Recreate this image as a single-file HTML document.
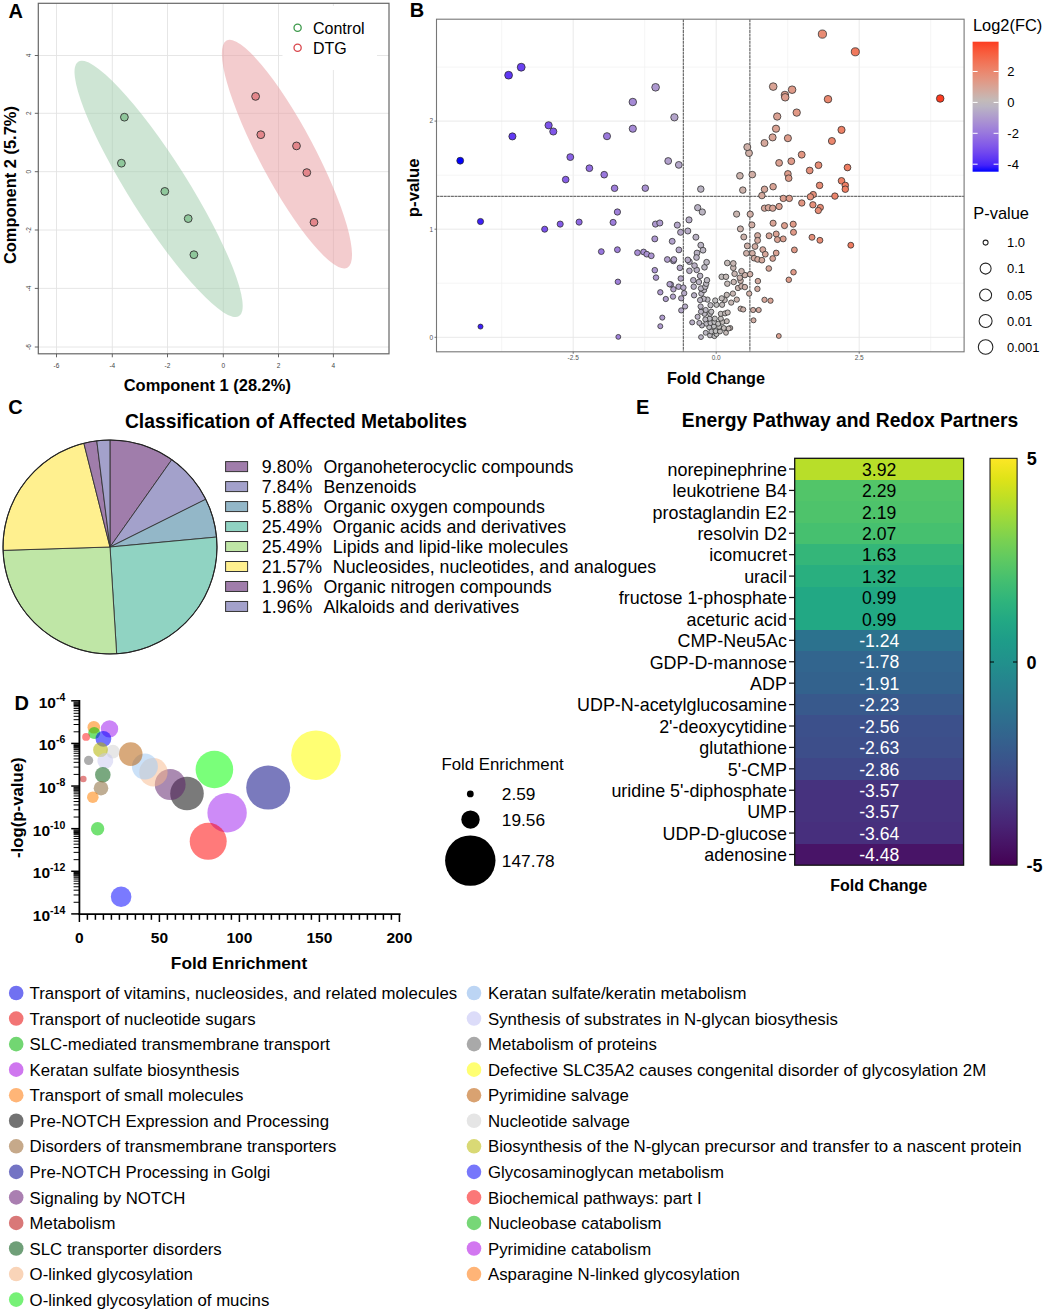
<!DOCTYPE html>
<html><head><meta charset="utf-8"><title>Figure</title>
<style>
html,body{margin:0;padding:0;background:#fff;}
body{width:1045px;height:1311px;overflow:hidden;}
svg{display:block;font-family:"Liberation Sans", sans-serif;}
</style></head><body>
<svg width="1045" height="1311" viewBox="0 0 1045 1311">
<rect width="1045" height="1311" fill="#fff"/>
<rect x="38.3" y="3.3" width="350.7" height="350.5" fill="#fff"/>
<line x1="56.5" y1="3.3" x2="56.5" y2="353.8" stroke="#e3e3e3" stroke-width="0.9"/>
<line x1="112.3" y1="3.3" x2="112.3" y2="353.8" stroke="#e3e3e3" stroke-width="0.9"/>
<line x1="167.5" y1="3.3" x2="167.5" y2="353.8" stroke="#e3e3e3" stroke-width="0.9"/>
<line x1="223.3" y1="3.3" x2="223.3" y2="353.8" stroke="#e3e3e3" stroke-width="0.9"/>
<line x1="278.5" y1="3.3" x2="278.5" y2="353.8" stroke="#e3e3e3" stroke-width="0.9"/>
<line x1="333.4" y1="3.3" x2="333.4" y2="353.8" stroke="#e3e3e3" stroke-width="0.9"/>
<line x1="38.3" y1="55.5" x2="389" y2="55.5" stroke="#e3e3e3" stroke-width="0.9"/>
<line x1="38.3" y1="113.3" x2="389" y2="113.3" stroke="#e3e3e3" stroke-width="0.9"/>
<line x1="38.3" y1="171.7" x2="389" y2="171.7" stroke="#e3e3e3" stroke-width="0.9"/>
<line x1="38.3" y1="230" x2="389" y2="230" stroke="#e3e3e3" stroke-width="0.9"/>
<line x1="38.3" y1="288.4" x2="389" y2="288.4" stroke="#e3e3e3" stroke-width="0.9"/>
<line x1="38.3" y1="347" x2="389" y2="347" stroke="#e3e3e3" stroke-width="0.9"/>
<ellipse cx="158.6" cy="188.9" rx="150.5" ry="29.1" transform="rotate(57.7 158.6 188.9)" fill="#9ecba9" fill-opacity="0.5"/>
<ellipse cx="286.95" cy="154.15" rx="128.6" ry="27.5" transform="rotate(62 286.95 154.15)" fill="#e89a9d" fill-opacity="0.5"/>
<rect x="282.5" y="6" width="94.5" height="64" fill="#fff"/>
<circle cx="297.6" cy="27.8" r="3.6" fill="none" stroke="#3e9a4c" stroke-width="1.3"/>
<circle cx="297.6" cy="47.8" r="3.6" fill="none" stroke="#d9474d" stroke-width="1.3"/>
<text x="313.00" y="33.60" font-size="16" font-weight="400" text-anchor="start" fill="#000" >Control</text>
<text x="313.00" y="53.60" font-size="16" font-weight="400" text-anchor="start" fill="#000" >DTG</text>
<circle cx="124.4" cy="117.2" r="3.9" fill="#8fc79b" stroke="#333" stroke-width="0.9"/>
<circle cx="121.4" cy="163.2" r="3.9" fill="#8fc79b" stroke="#333" stroke-width="0.9"/>
<circle cx="164.8" cy="191.4" r="3.9" fill="#8fc79b" stroke="#333" stroke-width="0.9"/>
<circle cx="188.2" cy="218.6" r="3.9" fill="#8fc79b" stroke="#333" stroke-width="0.9"/>
<circle cx="193.9" cy="254.7" r="3.9" fill="#8fc79b" stroke="#333" stroke-width="0.9"/>
<circle cx="255.6" cy="96.4" r="3.9" fill="#e3868b" stroke="#333" stroke-width="0.9"/>
<circle cx="260.8" cy="134.7" r="3.9" fill="#e3868b" stroke="#333" stroke-width="0.9"/>
<circle cx="296.5" cy="145.9" r="3.9" fill="#e3868b" stroke="#333" stroke-width="0.9"/>
<circle cx="306.8" cy="172.6" r="3.9" fill="#e3868b" stroke="#333" stroke-width="0.9"/>
<circle cx="314" cy="222.3" r="3.9" fill="#e3868b" stroke="#333" stroke-width="0.9"/>
<rect x="38.3" y="3.3" width="350.7" height="350.5" fill="none" stroke="#666" stroke-width="1.2"/>
<line x1="56.5" y1="353.8" x2="56.5" y2="357.3" stroke="#555" stroke-width="0.9"/>
<text x="56.50" y="367.80" font-size="6.5" font-weight="400" text-anchor="middle" fill="#444" >-6</text>
<line x1="112.3" y1="353.8" x2="112.3" y2="357.3" stroke="#555" stroke-width="0.9"/>
<text x="112.30" y="367.80" font-size="6.5" font-weight="400" text-anchor="middle" fill="#444" >-4</text>
<line x1="167.5" y1="353.8" x2="167.5" y2="357.3" stroke="#555" stroke-width="0.9"/>
<text x="167.50" y="367.80" font-size="6.5" font-weight="400" text-anchor="middle" fill="#444" >-2</text>
<line x1="223.3" y1="353.8" x2="223.3" y2="357.3" stroke="#555" stroke-width="0.9"/>
<text x="223.30" y="367.80" font-size="6.5" font-weight="400" text-anchor="middle" fill="#444" >0</text>
<line x1="278.5" y1="353.8" x2="278.5" y2="357.3" stroke="#555" stroke-width="0.9"/>
<text x="278.50" y="367.80" font-size="6.5" font-weight="400" text-anchor="middle" fill="#444" >2</text>
<line x1="333.4" y1="353.8" x2="333.4" y2="357.3" stroke="#555" stroke-width="0.9"/>
<text x="333.40" y="367.80" font-size="6.5" font-weight="400" text-anchor="middle" fill="#444" >4</text>
<line x1="34.8" y1="55.5" x2="38.3" y2="55.5" stroke="#555" stroke-width="0.9"/>
<text x="0" y="0" font-size="6.5" text-anchor="middle" fill="#444" transform="translate(30.5 55.5) rotate(-90)">4</text>
<line x1="34.8" y1="113.3" x2="38.3" y2="113.3" stroke="#555" stroke-width="0.9"/>
<text x="0" y="0" font-size="6.5" text-anchor="middle" fill="#444" transform="translate(30.5 113.3) rotate(-90)">2</text>
<line x1="34.8" y1="171.7" x2="38.3" y2="171.7" stroke="#555" stroke-width="0.9"/>
<text x="0" y="0" font-size="6.5" text-anchor="middle" fill="#444" transform="translate(30.5 171.7) rotate(-90)">0</text>
<line x1="34.8" y1="230" x2="38.3" y2="230" stroke="#555" stroke-width="0.9"/>
<text x="0" y="0" font-size="6.5" text-anchor="middle" fill="#444" transform="translate(30.5 230) rotate(-90)">-2</text>
<line x1="34.8" y1="288.4" x2="38.3" y2="288.4" stroke="#555" stroke-width="0.9"/>
<text x="0" y="0" font-size="6.5" text-anchor="middle" fill="#444" transform="translate(30.5 288.4) rotate(-90)">-4</text>
<line x1="34.8" y1="347" x2="38.3" y2="347" stroke="#555" stroke-width="0.9"/>
<text x="0" y="0" font-size="6.5" text-anchor="middle" fill="#444" transform="translate(30.5 347) rotate(-90)">-6</text>
<text x="207.30" y="390.80" font-size="16.45" font-weight="700" text-anchor="middle" fill="#000" >Component 1 (28.2%)</text>
<text x="0" y="0" font-size="16.45" font-weight="700" text-anchor="middle" transform="translate(15.8 185.1) rotate(-90)">Component 2 (5.7%)</text>
<text x="8.60" y="17.60" font-size="20" font-weight="700" text-anchor="start" fill="#000" >A</text>
<rect x="436.5" y="19.2" width="527.6" height="332.6" fill="#fff"/>
<line x1="501.7" y1="19.2" x2="501.7" y2="351.8" stroke="#f0f0f0" stroke-width="0.7"/>
<line x1="573.2" y1="19.2" x2="573.2" y2="351.8" stroke="#e6e6e6" stroke-width="0.9"/>
<line x1="644.7" y1="19.2" x2="644.7" y2="351.8" stroke="#f0f0f0" stroke-width="0.7"/>
<line x1="716.2" y1="19.2" x2="716.2" y2="351.8" stroke="#e6e6e6" stroke-width="0.9"/>
<line x1="787.7" y1="19.2" x2="787.7" y2="351.8" stroke="#f0f0f0" stroke-width="0.7"/>
<line x1="859.2" y1="19.2" x2="859.2" y2="351.8" stroke="#e6e6e6" stroke-width="0.9"/>
<line x1="930.7" y1="19.2" x2="930.7" y2="351.8" stroke="#f0f0f0" stroke-width="0.7"/>
<line x1="436.5" y1="337.3" x2="964.1" y2="337.3" stroke="#e6e6e6" stroke-width="0.9"/>
<line x1="436.5" y1="283.2" x2="964.1" y2="283.2" stroke="#f0f0f0" stroke-width="0.7"/>
<line x1="436.5" y1="229.2" x2="964.1" y2="229.2" stroke="#e6e6e6" stroke-width="0.9"/>
<line x1="436.5" y1="175.2" x2="964.1" y2="175.2" stroke="#f0f0f0" stroke-width="0.7"/>
<line x1="436.5" y1="121.1" x2="964.1" y2="121.1" stroke="#e6e6e6" stroke-width="0.9"/>
<line x1="436.5" y1="67.1" x2="964.1" y2="67.1" stroke="#f0f0f0" stroke-width="0.7"/>
<line x1="683.3" y1="19.2" x2="683.3" y2="351.8" stroke="#4d4d4d" stroke-width="1" stroke-dasharray="3 0.6"/>
<line x1="749.9" y1="19.2" x2="749.9" y2="351.8" stroke="#4d4d4d" stroke-width="1" stroke-dasharray="3 0.6"/>
<line x1="436.5" y1="196.3" x2="964.1" y2="196.3" stroke="#4d4d4d" stroke-width="1" stroke-dasharray="3 0.6"/>
<circle cx="701.0" cy="337.1" r="2.45" fill="#bab4c3" stroke="#2a2a2a" stroke-width="0.75"/>
<circle cx="705.7" cy="332.8" r="2.47" fill="#bbb7c1" stroke="#2a2a2a" stroke-width="0.75"/>
<circle cx="710.0" cy="335.4" r="2.46" fill="#bdbac0" stroke="#2a2a2a" stroke-width="0.75"/>
<circle cx="714.4" cy="336.2" r="2.46" fill="#bebdbf" stroke="#2a2a2a" stroke-width="0.75"/>
<circle cx="716.5" cy="334.1" r="2.47" fill="#bebebe" stroke="#2a2a2a" stroke-width="0.75"/>
<circle cx="711.3" cy="331.5" r="2.48" fill="#bdbbbf" stroke="#2a2a2a" stroke-width="0.75"/>
<circle cx="715.6" cy="331.1" r="2.48" fill="#bebebe" stroke="#2a2a2a" stroke-width="0.75"/>
<circle cx="720.0" cy="331.5" r="2.48" fill="#c0bcbb" stroke="#2a2a2a" stroke-width="0.75"/>
<circle cx="726.0" cy="332.8" r="2.47" fill="#c4bab7" stroke="#2a2a2a" stroke-width="0.75"/>
<circle cx="730.3" cy="328.0" r="2.50" fill="#c6b8b4" stroke="#2a2a2a" stroke-width="0.75"/>
<circle cx="728.6" cy="328.5" r="2.50" fill="#c5b8b5" stroke="#2a2a2a" stroke-width="0.75"/>
<circle cx="723.8" cy="328.0" r="2.50" fill="#c2bbb9" stroke="#2a2a2a" stroke-width="0.75"/>
<circle cx="719.1" cy="326.8" r="2.51" fill="#c0bdbc" stroke="#2a2a2a" stroke-width="0.75"/>
<circle cx="713.9" cy="326.3" r="2.51" fill="#bdbdbf" stroke="#2a2a2a" stroke-width="0.75"/>
<circle cx="709.2" cy="327.2" r="2.51" fill="#bcbac0" stroke="#2a2a2a" stroke-width="0.75"/>
<circle cx="706.2" cy="323.7" r="2.53" fill="#bcb8c1" stroke="#2a2a2a" stroke-width="0.75"/>
<circle cx="710.5" cy="322.9" r="2.53" fill="#bdbac0" stroke="#2a2a2a" stroke-width="0.75"/>
<circle cx="714.4" cy="322.0" r="2.53" fill="#bebdbf" stroke="#2a2a2a" stroke-width="0.75"/>
<circle cx="718.2" cy="323.7" r="2.53" fill="#bfbdbd" stroke="#2a2a2a" stroke-width="0.75"/>
<circle cx="722.5" cy="322.0" r="2.53" fill="#c2bbb9" stroke="#2a2a2a" stroke-width="0.75"/>
<circle cx="726.8" cy="321.2" r="2.54" fill="#c4b9b6" stroke="#2a2a2a" stroke-width="0.75"/>
<circle cx="720.8" cy="318.6" r="2.55" fill="#c1bcbb" stroke="#2a2a2a" stroke-width="0.75"/>
<circle cx="714.8" cy="318.6" r="2.55" fill="#bebdbe" stroke="#2a2a2a" stroke-width="0.75"/>
<circle cx="709.6" cy="318.6" r="2.55" fill="#bcbac0" stroke="#2a2a2a" stroke-width="0.75"/>
<circle cx="705.3" cy="319.4" r="2.55" fill="#bbb7c1" stroke="#2a2a2a" stroke-width="0.75"/>
<circle cx="701.9" cy="325.5" r="2.52" fill="#bab5c2" stroke="#2a2a2a" stroke-width="0.75"/>
<circle cx="699.3" cy="322.9" r="2.53" fill="#bab3c3" stroke="#2a2a2a" stroke-width="0.75"/>
<circle cx="692.2" cy="322.4" r="2.53" fill="#b8afc5" stroke="#2a2a2a" stroke-width="0.75"/>
<circle cx="697.6" cy="316.8" r="2.56" fill="#b9b2c4" stroke="#2a2a2a" stroke-width="0.75"/>
<circle cx="704.5" cy="313.8" r="2.58" fill="#bbb7c2" stroke="#2a2a2a" stroke-width="0.75"/>
<circle cx="710.0" cy="313.8" r="2.58" fill="#bdbac0" stroke="#2a2a2a" stroke-width="0.75"/>
<circle cx="720.8" cy="313.8" r="2.58" fill="#c1bcbb" stroke="#2a2a2a" stroke-width="0.75"/>
<circle cx="725.1" cy="313.4" r="2.58" fill="#c3bab8" stroke="#2a2a2a" stroke-width="0.75"/>
<circle cx="727.7" cy="312.5" r="2.59" fill="#c4b9b6" stroke="#2a2a2a" stroke-width="0.75"/>
<circle cx="701.0" cy="311.7" r="2.59" fill="#bab4c3" stroke="#2a2a2a" stroke-width="0.75"/>
<circle cx="711.3" cy="311.7" r="2.59" fill="#bdbbbf" stroke="#2a2a2a" stroke-width="0.75"/>
<circle cx="705.7" cy="310.0" r="2.60" fill="#bbb7c1" stroke="#2a2a2a" stroke-width="0.75"/>
<circle cx="700.6" cy="306.5" r="2.62" fill="#bab4c3" stroke="#2a2a2a" stroke-width="0.75"/>
<circle cx="710.5" cy="305.2" r="2.63" fill="#bdbac0" stroke="#2a2a2a" stroke-width="0.75"/>
<circle cx="716.5" cy="304.8" r="2.63" fill="#bebebe" stroke="#2a2a2a" stroke-width="0.75"/>
<circle cx="715.2" cy="300.5" r="2.65" fill="#bebdbe" stroke="#2a2a2a" stroke-width="0.75"/>
<circle cx="722.1" cy="304.8" r="2.63" fill="#c1bbba" stroke="#2a2a2a" stroke-width="0.75"/>
<circle cx="724.7" cy="300.0" r="2.66" fill="#c3bab8" stroke="#2a2a2a" stroke-width="0.75"/>
<circle cx="721.7" cy="298.3" r="2.67" fill="#c1bbba" stroke="#2a2a2a" stroke-width="0.75"/>
<circle cx="726.8" cy="294.9" r="2.69" fill="#c4b9b6" stroke="#2a2a2a" stroke-width="0.75"/>
<circle cx="732.9" cy="293.6" r="2.69" fill="#c7b6b2" stroke="#2a2a2a" stroke-width="0.75"/>
<circle cx="731.2" cy="302.6" r="2.64" fill="#c6b7b3" stroke="#2a2a2a" stroke-width="0.75"/>
<circle cx="736.8" cy="299.6" r="2.66" fill="#c9b5af" stroke="#2a2a2a" stroke-width="0.75"/>
<circle cx="740.6" cy="308.7" r="2.61" fill="#cbb3ac" stroke="#2a2a2a" stroke-width="0.75"/>
<circle cx="743.2" cy="309.5" r="2.60" fill="#ccb2ab" stroke="#2a2a2a" stroke-width="0.75"/>
<circle cx="753.1" cy="310.0" r="2.60" fill="#d1ada4" stroke="#2a2a2a" stroke-width="0.75"/>
<circle cx="758.7" cy="310.0" r="2.60" fill="#d3aaa0" stroke="#2a2a2a" stroke-width="0.75"/>
<circle cx="753.5" cy="320.3" r="2.54" fill="#d1ada3" stroke="#2a2a2a" stroke-width="0.75"/>
<circle cx="707.5" cy="299.6" r="2.66" fill="#bcb9c1" stroke="#2a2a2a" stroke-width="0.75"/>
<circle cx="703.6" cy="298.8" r="2.66" fill="#bbb6c2" stroke="#2a2a2a" stroke-width="0.75"/>
<circle cx="700.1" cy="300.1" r="2.66" fill="#bab4c3" stroke="#2a2a2a" stroke-width="0.75"/>
<circle cx="701.4" cy="293.6" r="2.69" fill="#bab5c2" stroke="#2a2a2a" stroke-width="0.75"/>
<circle cx="704.0" cy="290.1" r="2.71" fill="#bbb6c2" stroke="#2a2a2a" stroke-width="0.75"/>
<circle cx="701.0" cy="288.4" r="2.72" fill="#bab4c3" stroke="#2a2a2a" stroke-width="0.75"/>
<circle cx="705.3" cy="286.7" r="2.73" fill="#bbb7c1" stroke="#2a2a2a" stroke-width="0.75"/>
<circle cx="706.2" cy="283.7" r="2.75" fill="#bcb8c1" stroke="#2a2a2a" stroke-width="0.75"/>
<circle cx="707.0" cy="280.2" r="2.77" fill="#bcb8c1" stroke="#2a2a2a" stroke-width="0.75"/>
<circle cx="698.9" cy="282.0" r="2.76" fill="#bab3c3" stroke="#2a2a2a" stroke-width="0.75"/>
<circle cx="700.1" cy="275.9" r="2.79" fill="#bab4c3" stroke="#2a2a2a" stroke-width="0.75"/>
<circle cx="693.3" cy="280.2" r="2.77" fill="#b8b0c5" stroke="#2a2a2a" stroke-width="0.75"/>
<circle cx="693.7" cy="286.7" r="2.73" fill="#b8b0c5" stroke="#2a2a2a" stroke-width="0.75"/>
<circle cx="694.1" cy="295.3" r="2.68" fill="#b8b0c5" stroke="#2a2a2a" stroke-width="0.75"/>
<circle cx="685.1" cy="306.5" r="2.62" fill="#b6aac7" stroke="#2a2a2a" stroke-width="0.75"/>
<circle cx="681.2" cy="310.4" r="2.60" fill="#b5a8c8" stroke="#2a2a2a" stroke-width="0.75"/>
<circle cx="681.2" cy="298.3" r="2.67" fill="#b5a8c8" stroke="#2a2a2a" stroke-width="0.75"/>
<circle cx="684.2" cy="293.2" r="2.69" fill="#b6aac7" stroke="#2a2a2a" stroke-width="0.75"/>
<circle cx="673.4" cy="289.3" r="2.72" fill="#b3a3ca" stroke="#2a2a2a" stroke-width="0.75"/>
<circle cx="673.0" cy="296.6" r="2.68" fill="#b2a3cb" stroke="#2a2a2a" stroke-width="0.75"/>
<circle cx="678.6" cy="286.7" r="2.73" fill="#b4a6c9" stroke="#2a2a2a" stroke-width="0.75"/>
<circle cx="683.4" cy="287.6" r="2.73" fill="#b5a9c8" stroke="#2a2a2a" stroke-width="0.75"/>
<circle cx="670.9" cy="284.5" r="2.74" fill="#b2a2cb" stroke="#2a2a2a" stroke-width="0.75"/>
<circle cx="680.8" cy="278.5" r="2.78" fill="#b5a8c8" stroke="#2a2a2a" stroke-width="0.75"/>
<circle cx="679.9" cy="267.8" r="2.84" fill="#b4a7c9" stroke="#2a2a2a" stroke-width="0.75"/>
<circle cx="689.4" cy="270.8" r="2.82" fill="#b7adc6" stroke="#2a2a2a" stroke-width="0.75"/>
<circle cx="696.7" cy="269.9" r="2.82" fill="#b9b2c4" stroke="#2a2a2a" stroke-width="0.75"/>
<circle cx="694.5" cy="265.6" r="2.85" fill="#b9b0c4" stroke="#2a2a2a" stroke-width="0.75"/>
<circle cx="704.5" cy="267.3" r="2.84" fill="#bbb7c2" stroke="#2a2a2a" stroke-width="0.75"/>
<circle cx="706.6" cy="262.2" r="2.87" fill="#bcb8c1" stroke="#2a2a2a" stroke-width="0.75"/>
<circle cx="689.4" cy="261.7" r="2.87" fill="#b7adc6" stroke="#2a2a2a" stroke-width="0.75"/>
<circle cx="673.4" cy="260.9" r="2.87" fill="#b3a3ca" stroke="#2a2a2a" stroke-width="0.75"/>
<circle cx="721.7" cy="276.8" r="2.79" fill="#c1bbba" stroke="#2a2a2a" stroke-width="0.75"/>
<circle cx="726.0" cy="276.8" r="2.79" fill="#c4bab7" stroke="#2a2a2a" stroke-width="0.75"/>
<circle cx="727.3" cy="283.7" r="2.75" fill="#c4b9b6" stroke="#2a2a2a" stroke-width="0.75"/>
<circle cx="733.7" cy="282.0" r="2.76" fill="#c8b6b1" stroke="#2a2a2a" stroke-width="0.75"/>
<circle cx="738.0" cy="288.0" r="2.72" fill="#cab4ae" stroke="#2a2a2a" stroke-width="0.75"/>
<circle cx="741.5" cy="286.3" r="2.73" fill="#cbb2ac" stroke="#2a2a2a" stroke-width="0.75"/>
<circle cx="744.9" cy="287.1" r="2.73" fill="#cdb1a9" stroke="#2a2a2a" stroke-width="0.75"/>
<circle cx="740.6" cy="280.7" r="2.76" fill="#cbb3ac" stroke="#2a2a2a" stroke-width="0.75"/>
<circle cx="739.8" cy="277.7" r="2.78" fill="#cbb3ad" stroke="#2a2a2a" stroke-width="0.75"/>
<circle cx="744.9" cy="275.1" r="2.80" fill="#cdb1a9" stroke="#2a2a2a" stroke-width="0.75"/>
<circle cx="741.5" cy="271.2" r="2.82" fill="#cbb2ac" stroke="#2a2a2a" stroke-width="0.75"/>
<circle cx="750.1" cy="274.2" r="2.80" fill="#cfaea6" stroke="#2a2a2a" stroke-width="0.75"/>
<circle cx="749.2" cy="293.6" r="2.69" fill="#cfafa6" stroke="#2a2a2a" stroke-width="0.75"/>
<circle cx="734.6" cy="273.8" r="2.80" fill="#c8b6b1" stroke="#2a2a2a" stroke-width="0.75"/>
<circle cx="733.3" cy="267.8" r="2.84" fill="#c7b6b2" stroke="#2a2a2a" stroke-width="0.75"/>
<circle cx="733.3" cy="263.4" r="2.86" fill="#c7b6b2" stroke="#2a2a2a" stroke-width="0.75"/>
<circle cx="727.3" cy="263.0" r="2.86" fill="#c4b9b6" stroke="#2a2a2a" stroke-width="0.75"/>
<circle cx="757.9" cy="281.1" r="2.76" fill="#d3aba0" stroke="#2a2a2a" stroke-width="0.75"/>
<circle cx="757.4" cy="288.9" r="2.72" fill="#d2aba0" stroke="#2a2a2a" stroke-width="0.75"/>
<circle cx="508.6" cy="75.2" r="3.90" fill="#5f37f4" stroke="#2a2a2a" stroke-width="0.75"/>
<circle cx="521.2" cy="67.2" r="3.95" fill="#6a41f1" stroke="#2a2a2a" stroke-width="0.75"/>
<circle cx="460.2" cy="160.7" r="3.43" fill="#0200ff" stroke="#2a2a2a" stroke-width="0.75"/>
<circle cx="512.4" cy="136.4" r="3.57" fill="#623af3" stroke="#2a2a2a" stroke-width="0.75"/>
<circle cx="548.6" cy="125.3" r="3.63" fill="#7d54ea" stroke="#2a2a2a" stroke-width="0.75"/>
<circle cx="553.3" cy="131.5" r="3.59" fill="#8057e9" stroke="#2a2a2a" stroke-width="0.75"/>
<circle cx="570.3" cy="157.1" r="3.45" fill="#8962e5" stroke="#2a2a2a" stroke-width="0.75"/>
<circle cx="589.4" cy="168.2" r="3.39" fill="#936ee1" stroke="#2a2a2a" stroke-width="0.75"/>
<circle cx="604.2" cy="174.7" r="3.35" fill="#9a78dd" stroke="#2a2a2a" stroke-width="0.75"/>
<circle cx="565.7" cy="179.6" r="3.33" fill="#875fe6" stroke="#2a2a2a" stroke-width="0.75"/>
<circle cx="607.0" cy="136.2" r="3.57" fill="#9b79dc" stroke="#2a2a2a" stroke-width="0.75"/>
<circle cx="632.8" cy="102.0" r="3.76" fill="#a58ad5" stroke="#2a2a2a" stroke-width="0.75"/>
<circle cx="632.8" cy="128.7" r="3.61" fill="#a58ad5" stroke="#2a2a2a" stroke-width="0.75"/>
<circle cx="655.6" cy="87.3" r="3.84" fill="#ad98cf" stroke="#2a2a2a" stroke-width="0.75"/>
<circle cx="674.4" cy="117.3" r="3.67" fill="#b3a4ca" stroke="#2a2a2a" stroke-width="0.75"/>
<circle cx="668.2" cy="161.0" r="3.43" fill="#b1a0cc" stroke="#2a2a2a" stroke-width="0.75"/>
<circle cx="678.8" cy="164.9" r="3.41" fill="#b4a7c9" stroke="#2a2a2a" stroke-width="0.75"/>
<circle cx="480.5" cy="221.5" r="3.09" fill="#3e1ffa" stroke="#2a2a2a" stroke-width="0.75"/>
<circle cx="480.5" cy="326.6" r="2.51" fill="#3e1ffa" stroke="#2a2a2a" stroke-width="0.75"/>
<circle cx="544.7" cy="229.2" r="3.05" fill="#7a51eb" stroke="#2a2a2a" stroke-width="0.75"/>
<circle cx="560.2" cy="224.1" r="3.08" fill="#845be8" stroke="#2a2a2a" stroke-width="0.75"/>
<circle cx="579.1" cy="222.1" r="3.09" fill="#8e68e3" stroke="#2a2a2a" stroke-width="0.75"/>
<circle cx="613.1" cy="222.4" r="3.09" fill="#9d7ddb" stroke="#2a2a2a" stroke-width="0.75"/>
<circle cx="617.4" cy="212.0" r="3.15" fill="#9f80d9" stroke="#2a2a2a" stroke-width="0.75"/>
<circle cx="601.3" cy="251.6" r="2.93" fill="#9876de" stroke="#2a2a2a" stroke-width="0.75"/>
<circle cx="617.4" cy="249.7" r="2.94" fill="#9f80d9" stroke="#2a2a2a" stroke-width="0.75"/>
<circle cx="617.9" cy="281.8" r="2.76" fill="#9f80d9" stroke="#2a2a2a" stroke-width="0.75"/>
<circle cx="618.3" cy="336.9" r="2.45" fill="#9f81d9" stroke="#2a2a2a" stroke-width="0.75"/>
<circle cx="614.6" cy="188.3" r="3.28" fill="#9e7eda" stroke="#2a2a2a" stroke-width="0.75"/>
<circle cx="645.3" cy="188.2" r="3.28" fill="#aa92d2" stroke="#2a2a2a" stroke-width="0.75"/>
<circle cx="700.8" cy="189.1" r="3.27" fill="#bab4c3" stroke="#2a2a2a" stroke-width="0.75"/>
<circle cx="749.0" cy="153.1" r="3.47" fill="#cfafa6" stroke="#2a2a2a" stroke-width="0.75"/>
<circle cx="739.9" cy="175.8" r="3.35" fill="#cbb3ad" stroke="#2a2a2a" stroke-width="0.75"/>
<circle cx="752.3" cy="174.6" r="3.35" fill="#d0ada4" stroke="#2a2a2a" stroke-width="0.75"/>
<circle cx="742.8" cy="190.1" r="3.27" fill="#ccb2ab" stroke="#2a2a2a" stroke-width="0.75"/>
<circle cx="764.5" cy="189.3" r="3.27" fill="#d5a79b" stroke="#2a2a2a" stroke-width="0.75"/>
<circle cx="773.1" cy="186.7" r="3.29" fill="#d9a395" stroke="#2a2a2a" stroke-width="0.75"/>
<circle cx="761.9" cy="195.6" r="3.24" fill="#d4a99d" stroke="#2a2a2a" stroke-width="0.75"/>
<circle cx="779.1" cy="162.9" r="3.42" fill="#dba091" stroke="#2a2a2a" stroke-width="0.75"/>
<circle cx="697.7" cy="207.7" r="3.17" fill="#b9b2c4" stroke="#2a2a2a" stroke-width="0.75"/>
<circle cx="702.3" cy="212.0" r="3.15" fill="#bbb5c2" stroke="#2a2a2a" stroke-width="0.75"/>
<circle cx="655.5" cy="224.1" r="3.08" fill="#ad98cf" stroke="#2a2a2a" stroke-width="0.75"/>
<circle cx="659.8" cy="223.0" r="3.08" fill="#ae9bce" stroke="#2a2a2a" stroke-width="0.75"/>
<circle cx="677.3" cy="225.1" r="3.07" fill="#b4a6c9" stroke="#2a2a2a" stroke-width="0.75"/>
<circle cx="689.0" cy="219.9" r="3.10" fill="#b7adc6" stroke="#2a2a2a" stroke-width="0.75"/>
<circle cx="680.6" cy="232.3" r="3.03" fill="#b5a8c8" stroke="#2a2a2a" stroke-width="0.75"/>
<circle cx="687.8" cy="231.0" r="3.04" fill="#b7acc6" stroke="#2a2a2a" stroke-width="0.75"/>
<circle cx="695.9" cy="237.2" r="3.01" fill="#b9b1c4" stroke="#2a2a2a" stroke-width="0.75"/>
<circle cx="654.8" cy="238.9" r="3.00" fill="#ad97d0" stroke="#2a2a2a" stroke-width="0.75"/>
<circle cx="672.2" cy="241.3" r="2.98" fill="#b2a2cb" stroke="#2a2a2a" stroke-width="0.75"/>
<circle cx="700.8" cy="245.2" r="2.96" fill="#bab4c3" stroke="#2a2a2a" stroke-width="0.75"/>
<circle cx="703.0" cy="250.2" r="2.93" fill="#bbb6c2" stroke="#2a2a2a" stroke-width="0.75"/>
<circle cx="697.0" cy="253.0" r="2.92" fill="#b9b2c4" stroke="#2a2a2a" stroke-width="0.75"/>
<circle cx="696.5" cy="257.5" r="2.89" fill="#b9b2c4" stroke="#2a2a2a" stroke-width="0.75"/>
<circle cx="678.9" cy="249.9" r="2.94" fill="#b4a7c9" stroke="#2a2a2a" stroke-width="0.75"/>
<circle cx="637.5" cy="252.7" r="2.92" fill="#a78dd4" stroke="#2a2a2a" stroke-width="0.75"/>
<circle cx="643.6" cy="252.0" r="2.92" fill="#a990d3" stroke="#2a2a2a" stroke-width="0.75"/>
<circle cx="646.8" cy="254.2" r="2.91" fill="#aa92d2" stroke="#2a2a2a" stroke-width="0.75"/>
<circle cx="651.3" cy="255.8" r="2.90" fill="#ac95d1" stroke="#2a2a2a" stroke-width="0.75"/>
<circle cx="667.3" cy="259.5" r="2.88" fill="#b19fcc" stroke="#2a2a2a" stroke-width="0.75"/>
<circle cx="673.9" cy="259.5" r="2.88" fill="#b3a3ca" stroke="#2a2a2a" stroke-width="0.75"/>
<circle cx="687.8" cy="259.9" r="2.88" fill="#b7acc6" stroke="#2a2a2a" stroke-width="0.75"/>
<circle cx="654.8" cy="270.2" r="2.82" fill="#ad97d0" stroke="#2a2a2a" stroke-width="0.75"/>
<circle cx="656.0" cy="277.6" r="2.78" fill="#ad98cf" stroke="#2a2a2a" stroke-width="0.75"/>
<circle cx="669.6" cy="284.2" r="2.74" fill="#b1a1cc" stroke="#2a2a2a" stroke-width="0.75"/>
<circle cx="660.3" cy="292.3" r="2.70" fill="#af9bce" stroke="#2a2a2a" stroke-width="0.75"/>
<circle cx="665.8" cy="299.0" r="2.66" fill="#b09ecd" stroke="#2a2a2a" stroke-width="0.75"/>
<circle cx="662.3" cy="317.6" r="2.56" fill="#af9cce" stroke="#2a2a2a" stroke-width="0.75"/>
<circle cx="660.3" cy="326.2" r="2.51" fill="#af9bce" stroke="#2a2a2a" stroke-width="0.75"/>
<circle cx="764.5" cy="299.8" r="2.66" fill="#d5a79b" stroke="#2a2a2a" stroke-width="0.75"/>
<circle cx="770.5" cy="300.7" r="2.65" fill="#d8a597" stroke="#2a2a2a" stroke-width="0.75"/>
<circle cx="736.6" cy="214.1" r="3.13" fill="#c9b5af" stroke="#2a2a2a" stroke-width="0.75"/>
<circle cx="750.2" cy="214.2" r="3.13" fill="#cfaea6" stroke="#2a2a2a" stroke-width="0.75"/>
<circle cx="751.9" cy="224.9" r="3.07" fill="#d0ada4" stroke="#2a2a2a" stroke-width="0.75"/>
<circle cx="740.4" cy="228.9" r="3.05" fill="#cbb3ad" stroke="#2a2a2a" stroke-width="0.75"/>
<circle cx="743.8" cy="237.0" r="3.01" fill="#ccb1aa" stroke="#2a2a2a" stroke-width="0.75"/>
<circle cx="747.3" cy="245.9" r="2.96" fill="#ceb0a8" stroke="#2a2a2a" stroke-width="0.75"/>
<circle cx="755.0" cy="246.5" r="2.95" fill="#d1aca2" stroke="#2a2a2a" stroke-width="0.75"/>
<circle cx="757.6" cy="235.6" r="3.01" fill="#d3aba0" stroke="#2a2a2a" stroke-width="0.75"/>
<circle cx="757.6" cy="240.4" r="2.99" fill="#d3aba0" stroke="#2a2a2a" stroke-width="0.75"/>
<circle cx="746.4" cy="253.3" r="2.92" fill="#ceb0a8" stroke="#2a2a2a" stroke-width="0.75"/>
<circle cx="752.4" cy="253.3" r="2.92" fill="#d0ada4" stroke="#2a2a2a" stroke-width="0.75"/>
<circle cx="754.1" cy="258.2" r="2.89" fill="#d1aca3" stroke="#2a2a2a" stroke-width="0.75"/>
<circle cx="757.6" cy="259.4" r="2.88" fill="#d3aba0" stroke="#2a2a2a" stroke-width="0.75"/>
<circle cx="761.9" cy="260.2" r="2.88" fill="#d4a99d" stroke="#2a2a2a" stroke-width="0.75"/>
<circle cx="762.8" cy="249.6" r="2.94" fill="#d5a89d" stroke="#2a2a2a" stroke-width="0.75"/>
<circle cx="765.3" cy="254.2" r="2.91" fill="#d6a79b" stroke="#2a2a2a" stroke-width="0.75"/>
<circle cx="772.7" cy="258.5" r="2.89" fill="#d9a496" stroke="#2a2a2a" stroke-width="0.75"/>
<circle cx="768.8" cy="268.5" r="2.83" fill="#d7a598" stroke="#2a2a2a" stroke-width="0.75"/>
<circle cx="776.2" cy="253.0" r="2.92" fill="#daa293" stroke="#2a2a2a" stroke-width="0.75"/>
<circle cx="776.2" cy="234.0" r="3.02" fill="#daa293" stroke="#2a2a2a" stroke-width="0.75"/>
<circle cx="777.4" cy="239.6" r="2.99" fill="#daa192" stroke="#2a2a2a" stroke-width="0.75"/>
<circle cx="769.1" cy="235.8" r="3.01" fill="#d7a598" stroke="#2a2a2a" stroke-width="0.75"/>
<circle cx="773.1" cy="223.2" r="3.08" fill="#d9a395" stroke="#2a2a2a" stroke-width="0.75"/>
<circle cx="764.5" cy="208.2" r="3.17" fill="#d5a79b" stroke="#2a2a2a" stroke-width="0.75"/>
<circle cx="768.4" cy="207.7" r="3.17" fill="#d7a699" stroke="#2a2a2a" stroke-width="0.75"/>
<circle cx="772.7" cy="208.2" r="3.17" fill="#d9a496" stroke="#2a2a2a" stroke-width="0.75"/>
<circle cx="779.1" cy="206.5" r="3.18" fill="#dba091" stroke="#2a2a2a" stroke-width="0.75"/>
<circle cx="778.8" cy="336.0" r="2.46" fill="#dba191" stroke="#2a2a2a" stroke-width="0.75"/>
<circle cx="822.4" cy="34.1" r="4.10" fill="#e88b73" stroke="#2a2a2a" stroke-width="0.75"/>
<circle cx="855.3" cy="51.8" r="4.03" fill="#f0795d" stroke="#2a2a2a" stroke-width="0.75"/>
<circle cx="773.2" cy="86.6" r="3.84" fill="#d9a395" stroke="#2a2a2a" stroke-width="0.75"/>
<circle cx="792.1" cy="89.7" r="3.82" fill="#df9a88" stroke="#2a2a2a" stroke-width="0.75"/>
<circle cx="784.9" cy="95.0" r="3.79" fill="#dd9e8d" stroke="#2a2a2a" stroke-width="0.75"/>
<circle cx="785.2" cy="97.3" r="3.78" fill="#dd9d8d" stroke="#2a2a2a" stroke-width="0.75"/>
<circle cx="828.0" cy="99.2" r="3.77" fill="#ea886f" stroke="#2a2a2a" stroke-width="0.75"/>
<circle cx="796.7" cy="112.6" r="3.70" fill="#e19885" stroke="#2a2a2a" stroke-width="0.75"/>
<circle cx="777.2" cy="116.5" r="3.68" fill="#daa193" stroke="#2a2a2a" stroke-width="0.75"/>
<circle cx="776.0" cy="128.7" r="3.61" fill="#daa293" stroke="#2a2a2a" stroke-width="0.75"/>
<circle cx="772.6" cy="137.4" r="3.56" fill="#d9a496" stroke="#2a2a2a" stroke-width="0.75"/>
<circle cx="787.9" cy="138.2" r="3.56" fill="#de9c8b" stroke="#2a2a2a" stroke-width="0.75"/>
<circle cx="764.5" cy="143.0" r="3.53" fill="#d5a79b" stroke="#2a2a2a" stroke-width="0.75"/>
<circle cx="841.5" cy="129.9" r="3.60" fill="#ed8166" stroke="#2a2a2a" stroke-width="0.75"/>
<circle cx="831.9" cy="141.0" r="3.54" fill="#eb866d" stroke="#2a2a2a" stroke-width="0.75"/>
<circle cx="747.3" cy="147.1" r="3.51" fill="#ceb0a8" stroke="#2a2a2a" stroke-width="0.75"/>
<circle cx="801.7" cy="154.7" r="3.46" fill="#e29581" stroke="#2a2a2a" stroke-width="0.75"/>
<circle cx="791.3" cy="161.2" r="3.43" fill="#df9a89" stroke="#2a2a2a" stroke-width="0.75"/>
<circle cx="818.5" cy="165.2" r="3.41" fill="#e78d76" stroke="#2a2a2a" stroke-width="0.75"/>
<circle cx="809.7" cy="170.5" r="3.38" fill="#e5917c" stroke="#2a2a2a" stroke-width="0.75"/>
<circle cx="847.5" cy="167.5" r="3.39" fill="#ee7d62" stroke="#2a2a2a" stroke-width="0.75"/>
<circle cx="787.9" cy="173.9" r="3.36" fill="#de9c8b" stroke="#2a2a2a" stroke-width="0.75"/>
<circle cx="788.7" cy="178.2" r="3.33" fill="#de9c8a" stroke="#2a2a2a" stroke-width="0.75"/>
<circle cx="841.5" cy="180.8" r="3.32" fill="#ed8166" stroke="#2a2a2a" stroke-width="0.75"/>
<circle cx="845.3" cy="185.4" r="3.29" fill="#ee7e63" stroke="#2a2a2a" stroke-width="0.75"/>
<circle cx="845.3" cy="189.2" r="3.27" fill="#ee7e63" stroke="#2a2a2a" stroke-width="0.75"/>
<circle cx="819.6" cy="185.4" r="3.29" fill="#e78c75" stroke="#2a2a2a" stroke-width="0.75"/>
<circle cx="813.2" cy="194.6" r="3.24" fill="#e68f79" stroke="#2a2a2a" stroke-width="0.75"/>
<circle cx="810.4" cy="196.8" r="3.23" fill="#e5917b" stroke="#2a2a2a" stroke-width="0.75"/>
<circle cx="834.9" cy="196.1" r="3.23" fill="#eb846b" stroke="#2a2a2a" stroke-width="0.75"/>
<circle cx="783.3" cy="198.4" r="3.22" fill="#dc9e8e" stroke="#2a2a2a" stroke-width="0.75"/>
<circle cx="789.3" cy="198.4" r="3.22" fill="#de9b8a" stroke="#2a2a2a" stroke-width="0.75"/>
<circle cx="940.2" cy="98.5" r="3.78" fill="#fc3c21" stroke="#2a2a2a" stroke-width="0.75"/>
<circle cx="801.8" cy="203.0" r="3.20" fill="#e29581" stroke="#2a2a2a" stroke-width="0.75"/>
<circle cx="812.9" cy="204.8" r="3.19" fill="#e6907a" stroke="#2a2a2a" stroke-width="0.75"/>
<circle cx="820.3" cy="207.5" r="3.17" fill="#e88c75" stroke="#2a2a2a" stroke-width="0.75"/>
<circle cx="818.3" cy="210.5" r="3.15" fill="#e78d76" stroke="#2a2a2a" stroke-width="0.75"/>
<circle cx="784.5" cy="225.6" r="3.07" fill="#dd9e8d" stroke="#2a2a2a" stroke-width="0.75"/>
<circle cx="793.2" cy="224.2" r="3.08" fill="#e09a87" stroke="#2a2a2a" stroke-width="0.75"/>
<circle cx="793.5" cy="232.3" r="3.03" fill="#e09987" stroke="#2a2a2a" stroke-width="0.75"/>
<circle cx="783.2" cy="238.9" r="3.00" fill="#dc9e8e" stroke="#2a2a2a" stroke-width="0.75"/>
<circle cx="812.0" cy="237.3" r="3.01" fill="#e5907a" stroke="#2a2a2a" stroke-width="0.75"/>
<circle cx="819.9" cy="240.3" r="2.99" fill="#e88c75" stroke="#2a2a2a" stroke-width="0.75"/>
<circle cx="850.8" cy="245.2" r="2.96" fill="#ef7b60" stroke="#2a2a2a" stroke-width="0.75"/>
<circle cx="794.4" cy="249.9" r="2.94" fill="#e09987" stroke="#2a2a2a" stroke-width="0.75"/>
<circle cx="793.5" cy="272.2" r="2.81" fill="#e09987" stroke="#2a2a2a" stroke-width="0.75"/>
<circle cx="788.8" cy="279.8" r="2.77" fill="#de9c8a" stroke="#2a2a2a" stroke-width="0.75"/>
<rect x="436.5" y="19.2" width="527.6" height="332.6" fill="none" stroke="#777" stroke-width="1.1"/>
<line x1="573.2" y1="351.8" x2="573.2" y2="353.8" stroke="#555" stroke-width="0.8"/>
<text x="573.20" y="360.00" font-size="6.5" font-weight="400" text-anchor="middle" fill="#555" >-2.5</text>
<line x1="716.2" y1="351.8" x2="716.2" y2="353.8" stroke="#555" stroke-width="0.8"/>
<text x="716.20" y="360.00" font-size="6.5" font-weight="400" text-anchor="middle" fill="#555" >0.0</text>
<line x1="859.2" y1="351.8" x2="859.2" y2="353.8" stroke="#555" stroke-width="0.8"/>
<text x="859.20" y="360.00" font-size="6.5" font-weight="400" text-anchor="middle" fill="#555" >2.5</text>
<line x1="434.5" y1="337.3" x2="436.5" y2="337.3" stroke="#555" stroke-width="0.8"/>
<text x="433.00" y="339.60" font-size="6.5" font-weight="400" text-anchor="end" fill="#555" >0</text>
<line x1="434.5" y1="229.2" x2="436.5" y2="229.2" stroke="#555" stroke-width="0.8"/>
<text x="433.00" y="231.50" font-size="6.5" font-weight="400" text-anchor="end" fill="#555" >1</text>
<line x1="434.5" y1="121.1" x2="436.5" y2="121.1" stroke="#555" stroke-width="0.8"/>
<text x="433.00" y="123.40" font-size="6.5" font-weight="400" text-anchor="end" fill="#555" >2</text>
<text x="716.00" y="383.60" font-size="16.2" font-weight="700" text-anchor="middle" fill="#000" >Fold Change</text>
<text x="0" y="0" font-size="16.8" font-weight="700" text-anchor="middle" transform="translate(419 187.8) rotate(-90)">p-value</text>
<text x="409.80" y="17.40" font-size="20" font-weight="700" text-anchor="start" fill="#000" >B</text>
<defs><linearGradient id="gB" x1="0" y1="1" x2="0" y2="0">
<stop offset="0.000" stop-color="#0000ff"/>
<stop offset="0.050" stop-color="#4423fa"/>
<stop offset="0.100" stop-color="#5e37f4"/>
<stop offset="0.150" stop-color="#7248ee"/>
<stop offset="0.200" stop-color="#8159e9"/>
<stop offset="0.250" stop-color="#8e68e3"/>
<stop offset="0.300" stop-color="#9978dd"/>
<stop offset="0.350" stop-color="#a387d7"/>
<stop offset="0.400" stop-color="#ac96d0"/>
<stop offset="0.450" stop-color="#b3a5ca"/>
<stop offset="0.500" stop-color="#bab4c3"/>
<stop offset="0.550" stop-color="#c3bab8"/>
<stop offset="0.600" stop-color="#ceafa7"/>
<stop offset="0.650" stop-color="#d8a496"/>
<stop offset="0.700" stop-color="#e19885"/>
<stop offset="0.750" stop-color="#e88c75"/>
<stop offset="0.800" stop-color="#ee7f64"/>
<stop offset="0.850" stop-color="#f27154"/>
<stop offset="0.900" stop-color="#f66243"/>
<stop offset="0.950" stop-color="#fa5133"/>
<stop offset="1.000" stop-color="#fc3c21"/>
</linearGradient></defs>
<rect x="972.6" y="41.7" width="26.0" height="130.0" fill="url(#gB)"/>
<line x1="972.6" y1="71.5" x2="977.6" y2="71.5" stroke="#fff" stroke-width="1"/>
<line x1="993.6" y1="71.5" x2="998.6" y2="71.5" stroke="#fff" stroke-width="1"/>
<text x="1007.30" y="76.10" font-size="13" font-weight="400" text-anchor="start" fill="#000" >2</text>
<line x1="972.6" y1="102.4" x2="977.6" y2="102.4" stroke="#fff" stroke-width="1"/>
<line x1="993.6" y1="102.4" x2="998.6" y2="102.4" stroke="#fff" stroke-width="1"/>
<text x="1007.30" y="107.00" font-size="13" font-weight="400" text-anchor="start" fill="#000" >0</text>
<line x1="972.6" y1="133.3" x2="977.6" y2="133.3" stroke="#fff" stroke-width="1"/>
<line x1="993.6" y1="133.3" x2="998.6" y2="133.3" stroke="#fff" stroke-width="1"/>
<text x="1007.30" y="137.90" font-size="13" font-weight="400" text-anchor="start" fill="#000" >-2</text>
<line x1="972.6" y1="164.2" x2="977.6" y2="164.2" stroke="#fff" stroke-width="1"/>
<line x1="993.6" y1="164.2" x2="998.6" y2="164.2" stroke="#fff" stroke-width="1"/>
<text x="1007.30" y="168.80" font-size="13" font-weight="400" text-anchor="start" fill="#000" >-4</text>
<text x="973.00" y="31.40" font-size="16.4" font-weight="400" text-anchor="start" fill="#000" >Log2(FC)</text>
<text x="973.30" y="219.40" font-size="16.4" font-weight="400" text-anchor="start" fill="#000" >P-value</text>
<circle cx="985.6" cy="242.6" r="2.5" fill="none" stroke="#222" stroke-width="1.05"/>
<text x="1007.00" y="247.30" font-size="13" font-weight="400" text-anchor="start" fill="#000" >1.0</text>
<circle cx="985.6" cy="268.6" r="5.5" fill="none" stroke="#222" stroke-width="1.05"/>
<text x="1007.00" y="273.30" font-size="13" font-weight="400" text-anchor="start" fill="#000" >0.1</text>
<circle cx="985.6" cy="295" r="6" fill="none" stroke="#222" stroke-width="1.05"/>
<text x="1007.00" y="299.70" font-size="13" font-weight="400" text-anchor="start" fill="#000" >0.05</text>
<circle cx="985.6" cy="321" r="6.5" fill="none" stroke="#222" stroke-width="1.05"/>
<text x="1007.00" y="325.70" font-size="13" font-weight="400" text-anchor="start" fill="#000" >0.01</text>
<circle cx="985.6" cy="347" r="7.3" fill="none" stroke="#222" stroke-width="1.05"/>
<text x="1007.00" y="351.70" font-size="13" font-weight="400" text-anchor="start" fill="#000" >0.001</text>
<path d="M110,547 L110.00,440.00 A107,107 0 0 1 171.80,459.65 Z" fill="#a07dab" stroke="#333" stroke-width="0.9" stroke-linejoin="round"/>
<path d="M110,547 L171.80,459.65 A107,107 0 0 1 205.76,499.26 Z" fill="#a3a1cb" stroke="#333" stroke-width="0.9" stroke-linejoin="round"/>
<path d="M110,547 L205.76,499.26 A107,107 0 0 1 216.54,537.06 Z" fill="#93b7c8" stroke="#333" stroke-width="0.9" stroke-linejoin="round"/>
<path d="M110,547 L216.54,537.06 A107,107 0 0 1 116.65,653.79 Z" fill="#90d3c2" stroke="#333" stroke-width="0.9" stroke-linejoin="round"/>
<path d="M110,547 L116.65,653.79 A107,107 0 0 1 3.05,550.36 Z" fill="#bfe6a6" stroke="#333" stroke-width="0.9" stroke-linejoin="round"/>
<path d="M110,547 L3.05,550.36 A107,107 0 0 1 83.85,443.25 Z" fill="#fff08f" stroke="#333" stroke-width="0.9" stroke-linejoin="round"/>
<path d="M110,547 L83.85,443.25 A107,107 0 0 1 96.79,440.82 Z" fill="#a07dab" stroke="#333" stroke-width="0.9" stroke-linejoin="round"/>
<path d="M110,547 L96.79,440.82 A107,107 0 0 1 109.93,440.00 Z" fill="#a3a1cb" stroke="#333" stroke-width="0.9" stroke-linejoin="round"/>
<circle cx="110" cy="547" r="107" fill="none" stroke="#222" stroke-width="1.1"/>
<text x="296.00" y="427.60" font-size="19.3" font-weight="700" text-anchor="middle" fill="#000" >Classification of Affected Metabolites</text>
<text x="8.20" y="413.60" font-size="20" font-weight="700" text-anchor="start" fill="#000" >C</text>
<rect x="225.6" y="461.60" width="22" height="10" fill="#a07dab" stroke="#333" stroke-width="1"/>
<text x="261.80" y="472.80" font-size="17.8" font-weight="400" text-anchor="start" fill="#000" >9.80%</text>
<text x="323.40" y="472.80" font-size="17.8" font-weight="400" text-anchor="start" fill="#000" >Organoheterocyclic compounds</text>
<rect x="225.6" y="481.58" width="22" height="10" fill="#a3a1cb" stroke="#333" stroke-width="1"/>
<text x="261.80" y="492.78" font-size="17.8" font-weight="400" text-anchor="start" fill="#000" >7.84%</text>
<text x="323.40" y="492.78" font-size="17.8" font-weight="400" text-anchor="start" fill="#000" >Benzenoids</text>
<rect x="225.6" y="501.56" width="22" height="10" fill="#93b7c8" stroke="#333" stroke-width="1"/>
<text x="261.80" y="512.76" font-size="17.8" font-weight="400" text-anchor="start" fill="#000" >5.88%</text>
<text x="323.40" y="512.76" font-size="17.8" font-weight="400" text-anchor="start" fill="#000" >Organic oxygen compounds</text>
<rect x="225.6" y="521.54" width="22" height="10" fill="#90d3c2" stroke="#333" stroke-width="1"/>
<text x="261.80" y="532.74" font-size="17.8" font-weight="400" text-anchor="start" fill="#000" >25.49%</text>
<text x="332.80" y="532.74" font-size="17.8" font-weight="400" text-anchor="start" fill="#000" >Organic acids and derivatives</text>
<rect x="225.6" y="541.52" width="22" height="10" fill="#bfe6a6" stroke="#333" stroke-width="1"/>
<text x="261.80" y="552.72" font-size="17.8" font-weight="400" text-anchor="start" fill="#000" >25.49%</text>
<text x="332.80" y="552.72" font-size="17.8" font-weight="400" text-anchor="start" fill="#000" >Lipids and lipid-like molecules</text>
<rect x="225.6" y="561.50" width="22" height="10" fill="#fff08f" stroke="#333" stroke-width="1"/>
<text x="261.80" y="572.70" font-size="17.8" font-weight="400" text-anchor="start" fill="#000" >21.57%</text>
<text x="332.80" y="572.70" font-size="17.8" font-weight="400" text-anchor="start" fill="#000" >Nucleosides, nucleotides, and analogues</text>
<rect x="225.6" y="581.48" width="22" height="10" fill="#a07dab" stroke="#333" stroke-width="1"/>
<text x="261.80" y="592.68" font-size="17.8" font-weight="400" text-anchor="start" fill="#000" >1.96%</text>
<text x="323.40" y="592.68" font-size="17.8" font-weight="400" text-anchor="start" fill="#000" >Organic nitrogen compounds</text>
<rect x="225.6" y="601.46" width="22" height="10" fill="#a3a1cb" stroke="#333" stroke-width="1"/>
<text x="261.80" y="612.66" font-size="17.8" font-weight="400" text-anchor="start" fill="#000" >1.96%</text>
<text x="323.40" y="612.66" font-size="17.8" font-weight="400" text-anchor="start" fill="#000" >Alkaloids and derivatives</text>
<rect x="794.7" y="458" width="168.90" height="22.00" fill="#b8de29" shape-rendering="crispEdges"/>
<text x="879.20" y="475.71" font-size="17.6" font-weight="400" text-anchor="middle" fill="#000" >3.92</text>
<text x="786.90" y="475.81" font-size="17.9" font-weight="400" text-anchor="end" fill="#000" >norepinephrine</text>
<line x1="789.0" y1="469.01" x2="794.7" y2="469.01" stroke="#111" stroke-width="1.25"/>
<rect x="794.7" y="480" width="168.90" height="21.00" fill="#52c569" shape-rendering="crispEdges"/>
<text x="879.20" y="497.12" font-size="17.6" font-weight="400" text-anchor="middle" fill="#000" >2.29</text>
<text x="786.90" y="497.22" font-size="17.9" font-weight="400" text-anchor="end" fill="#000" >leukotriene B4</text>
<line x1="789.0" y1="490.42" x2="794.7" y2="490.42" stroke="#111" stroke-width="1.25"/>
<rect x="794.7" y="501" width="168.90" height="22.00" fill="#4ec36b" shape-rendering="crispEdges"/>
<text x="879.20" y="518.54" font-size="17.6" font-weight="400" text-anchor="middle" fill="#000" >2.19</text>
<text x="786.90" y="518.64" font-size="17.9" font-weight="400" text-anchor="end" fill="#000" >prostaglandin E2</text>
<line x1="789.0" y1="511.84" x2="794.7" y2="511.84" stroke="#111" stroke-width="1.25"/>
<rect x="794.7" y="523" width="168.90" height="21.00" fill="#46c06f" shape-rendering="crispEdges"/>
<text x="879.20" y="539.96" font-size="17.6" font-weight="400" text-anchor="middle" fill="#000" >2.07</text>
<text x="786.90" y="540.06" font-size="17.9" font-weight="400" text-anchor="end" fill="#000" >resolvin D2</text>
<line x1="789.0" y1="533.26" x2="794.7" y2="533.26" stroke="#111" stroke-width="1.25"/>
<rect x="794.7" y="544" width="168.90" height="21.00" fill="#34b679" shape-rendering="crispEdges"/>
<text x="879.20" y="561.37" font-size="17.6" font-weight="400" text-anchor="middle" fill="#000" >1.63</text>
<text x="786.90" y="561.47" font-size="17.9" font-weight="400" text-anchor="end" fill="#000" >icomucret</text>
<line x1="789.0" y1="554.67" x2="794.7" y2="554.67" stroke="#111" stroke-width="1.25"/>
<rect x="794.7" y="565" width="168.90" height="22.00" fill="#29af7f" shape-rendering="crispEdges"/>
<text x="879.20" y="582.79" font-size="17.6" font-weight="400" text-anchor="middle" fill="#000" >1.32</text>
<text x="786.90" y="582.89" font-size="17.9" font-weight="400" text-anchor="end" fill="#000" >uracil</text>
<line x1="789.0" y1="576.09" x2="794.7" y2="576.09" stroke="#111" stroke-width="1.25"/>
<rect x="794.7" y="587" width="168.90" height="21.00" fill="#22a884" shape-rendering="crispEdges"/>
<text x="879.20" y="604.20" font-size="17.6" font-weight="400" text-anchor="middle" fill="#000" >0.99</text>
<text x="786.90" y="604.30" font-size="17.9" font-weight="400" text-anchor="end" fill="#000" >fructose 1-phosphate</text>
<line x1="789.0" y1="597.50" x2="794.7" y2="597.50" stroke="#111" stroke-width="1.25"/>
<rect x="794.7" y="608" width="168.90" height="22.00" fill="#22a884" shape-rendering="crispEdges"/>
<text x="879.20" y="625.62" font-size="17.6" font-weight="400" text-anchor="middle" fill="#000" >0.99</text>
<text x="786.90" y="625.72" font-size="17.9" font-weight="400" text-anchor="end" fill="#000" >aceturic acid</text>
<line x1="789.0" y1="618.92" x2="794.7" y2="618.92" stroke="#111" stroke-width="1.25"/>
<rect x="794.7" y="630" width="168.90" height="21.00" fill="#2c728e" shape-rendering="crispEdges"/>
<text x="879.20" y="647.03" font-size="17.6" font-weight="400" text-anchor="middle" fill="#fff" >-1.24</text>
<text x="786.90" y="647.13" font-size="17.9" font-weight="400" text-anchor="end" fill="#000" >CMP-Neu5Ac</text>
<line x1="789.0" y1="640.33" x2="794.7" y2="640.33" stroke="#111" stroke-width="1.25"/>
<rect x="794.7" y="651" width="168.90" height="21.00" fill="#32658e" shape-rendering="crispEdges"/>
<text x="879.20" y="668.45" font-size="17.6" font-weight="400" text-anchor="middle" fill="#fff" >-1.78</text>
<text x="786.90" y="668.55" font-size="17.9" font-weight="400" text-anchor="end" fill="#000" >GDP-D-mannose</text>
<line x1="789.0" y1="661.75" x2="794.7" y2="661.75" stroke="#111" stroke-width="1.25"/>
<rect x="794.7" y="672" width="168.90" height="22.00" fill="#33628d" shape-rendering="crispEdges"/>
<text x="879.20" y="689.87" font-size="17.6" font-weight="400" text-anchor="middle" fill="#fff" >-1.91</text>
<text x="786.90" y="689.97" font-size="17.9" font-weight="400" text-anchor="end" fill="#000" >ADP</text>
<line x1="789.0" y1="683.17" x2="794.7" y2="683.17" stroke="#111" stroke-width="1.25"/>
<rect x="794.7" y="694" width="168.90" height="21.00" fill="#38598c" shape-rendering="crispEdges"/>
<text x="879.20" y="711.28" font-size="17.6" font-weight="400" text-anchor="middle" fill="#fff" >-2.23</text>
<text x="786.90" y="711.38" font-size="17.9" font-weight="400" text-anchor="end" fill="#000" >UDP-N-acetylglucosamine</text>
<line x1="789.0" y1="704.58" x2="794.7" y2="704.58" stroke="#111" stroke-width="1.25"/>
<rect x="794.7" y="715" width="168.90" height="22.00" fill="#3c508b" shape-rendering="crispEdges"/>
<text x="879.20" y="732.70" font-size="17.6" font-weight="400" text-anchor="middle" fill="#fff" >-2.56</text>
<text x="786.90" y="732.80" font-size="17.9" font-weight="400" text-anchor="end" fill="#000" >2'-deoxycytidine</text>
<line x1="789.0" y1="726.00" x2="794.7" y2="726.00" stroke="#111" stroke-width="1.25"/>
<rect x="794.7" y="737" width="168.90" height="21.00" fill="#3d4e8a" shape-rendering="crispEdges"/>
<text x="879.20" y="754.11" font-size="17.6" font-weight="400" text-anchor="middle" fill="#fff" >-2.63</text>
<text x="786.90" y="754.21" font-size="17.9" font-weight="400" text-anchor="end" fill="#000" >glutathione</text>
<line x1="789.0" y1="747.41" x2="794.7" y2="747.41" stroke="#111" stroke-width="1.25"/>
<rect x="794.7" y="758" width="168.90" height="22.00" fill="#3f4788" shape-rendering="crispEdges"/>
<text x="879.20" y="775.53" font-size="17.6" font-weight="400" text-anchor="middle" fill="#fff" >-2.86</text>
<text x="786.90" y="775.63" font-size="17.9" font-weight="400" text-anchor="end" fill="#000" >5'-CMP</text>
<line x1="789.0" y1="768.83" x2="794.7" y2="768.83" stroke="#111" stroke-width="1.25"/>
<rect x="794.7" y="780" width="168.90" height="21.00" fill="#46327e" shape-rendering="crispEdges"/>
<text x="879.20" y="796.94" font-size="17.6" font-weight="400" text-anchor="middle" fill="#fff" >-3.57</text>
<text x="786.90" y="797.04" font-size="17.9" font-weight="400" text-anchor="end" fill="#000" >uridine 5'-diphosphate</text>
<line x1="789.0" y1="790.24" x2="794.7" y2="790.24" stroke="#111" stroke-width="1.25"/>
<rect x="794.7" y="801" width="168.90" height="21.00" fill="#46327e" shape-rendering="crispEdges"/>
<text x="879.20" y="818.36" font-size="17.6" font-weight="400" text-anchor="middle" fill="#fff" >-3.57</text>
<text x="786.90" y="818.46" font-size="17.9" font-weight="400" text-anchor="end" fill="#000" >UMP</text>
<line x1="789.0" y1="811.66" x2="794.7" y2="811.66" stroke="#111" stroke-width="1.25"/>
<rect x="794.7" y="822" width="168.90" height="22.00" fill="#472f7d" shape-rendering="crispEdges"/>
<text x="879.20" y="839.78" font-size="17.6" font-weight="400" text-anchor="middle" fill="#fff" >-3.64</text>
<text x="786.90" y="839.88" font-size="17.9" font-weight="400" text-anchor="end" fill="#000" >UDP-D-glucose</text>
<line x1="789.0" y1="833.08" x2="794.7" y2="833.08" stroke="#111" stroke-width="1.25"/>
<rect x="794.7" y="844" width="168.90" height="21.20" fill="#481467" shape-rendering="crispEdges"/>
<text x="879.20" y="861.19" font-size="17.6" font-weight="400" text-anchor="middle" fill="#fff" >-4.48</text>
<text x="786.90" y="861.29" font-size="17.9" font-weight="400" text-anchor="end" fill="#000" >adenosine</text>
<line x1="789.0" y1="854.49" x2="794.7" y2="854.49" stroke="#111" stroke-width="1.25"/>
<rect x="794.7" y="458.3" width="168.90" height="406.90" fill="none" stroke="#111" stroke-width="1.3"/>
<defs><linearGradient id="gE" x1="0" y1="1" x2="0" y2="0">
<stop offset="0.000" stop-color="#440154"/>
<stop offset="0.050" stop-color="#471365"/>
<stop offset="0.100" stop-color="#482475"/>
<stop offset="0.150" stop-color="#463480"/>
<stop offset="0.200" stop-color="#414487"/>
<stop offset="0.250" stop-color="#3b528b"/>
<stop offset="0.300" stop-color="#355f8d"/>
<stop offset="0.350" stop-color="#2f6c8e"/>
<stop offset="0.400" stop-color="#2a788e"/>
<stop offset="0.450" stop-color="#25848e"/>
<stop offset="0.500" stop-color="#21918c"/>
<stop offset="0.550" stop-color="#1e9c89"/>
<stop offset="0.600" stop-color="#22a884"/>
<stop offset="0.650" stop-color="#2fb47c"/>
<stop offset="0.700" stop-color="#44bf70"/>
<stop offset="0.750" stop-color="#5ec962"/>
<stop offset="0.800" stop-color="#7ad151"/>
<stop offset="0.850" stop-color="#9bd93c"/>
<stop offset="0.900" stop-color="#bddf26"/>
<stop offset="0.950" stop-color="#dfe318"/>
<stop offset="1.000" stop-color="#fde725"/>
</linearGradient></defs>
<rect x="990" y="458.3" width="27.1" height="406.90" fill="url(#gE)" stroke="#111" stroke-width="1"/>
<line x1="990" y1="662" x2="994" y2="662" stroke="#000" stroke-width="1"/>
<line x1="1013" y1="662" x2="1017.1" y2="662" stroke="#000" stroke-width="1"/>
<text x="1026.80" y="464.80" font-size="18" font-weight="700" text-anchor="start" fill="#000" >5</text>
<text x="1026.50" y="668.50" font-size="18" font-weight="700" text-anchor="start" fill="#000" >0</text>
<text x="1026.50" y="871.50" font-size="18" font-weight="700" text-anchor="start" fill="#000" >-5</text>
<text x="878.70" y="891.10" font-size="16" font-weight="700" text-anchor="middle" fill="#000" >Fold Change</text>
<text x="850.00" y="427.10" font-size="19.3" font-weight="700" text-anchor="middle" fill="#000" >Energy Pathway and Redox Partners</text>
<text x="636.00" y="413.60" font-size="20" font-weight="700" text-anchor="start" fill="#000" >E</text>
<circle cx="316.0" cy="755.2" r="24.8" fill="#ffff00" fill-opacity="0.55"/>
<circle cx="268.2" cy="787.6" r="22.0" fill="#000080" fill-opacity="0.52"/>
<circle cx="214.4" cy="769.5" r="18.8" fill="#00ff00" fill-opacity="0.52"/>
<circle cx="227.1" cy="812.8" r="19.7" fill="#a020f0" fill-opacity="0.52"/>
<circle cx="208.2" cy="841.3" r="18.5" fill="#ff0000" fill-opacity="0.52"/>
<circle cx="187.0" cy="793.5" r="16.8" fill="#000000" fill-opacity="0.52"/>
<circle cx="170.2" cy="784.5" r="15.4" fill="#5c1f6a" fill-opacity="0.52"/>
<circle cx="153.4" cy="772.3" r="14.2" fill="#f7b78a" fill-opacity="0.5"/>
<circle cx="144.9" cy="766.6" r="13.0" fill="#a8cdf4" fill-opacity="0.6"/>
<circle cx="130.7" cy="754.1" r="11.8" fill="#b8620e" fill-opacity="0.55"/>
<circle cx="112.9" cy="751.6" r="6.8" fill="#d0d0d0" fill-opacity="0.5"/>
<circle cx="121.1" cy="896.7" r="10.3" fill="#0000ff" fill-opacity="0.52"/>
<circle cx="97.6" cy="828.8" r="6.7" fill="#00c800" fill-opacity="0.55"/>
<circle cx="93.8" cy="727.3" r="6.3" fill="#ff8000" fill-opacity="0.55"/>
<circle cx="94.2" cy="733.1" r="6.0" fill="#00c800" fill-opacity="0.55"/>
<circle cx="109.5" cy="728.9" r="8.7" fill="#a020f0" fill-opacity="0.55"/>
<circle cx="103.4" cy="738.8" r="7.9" fill="#0000ff" fill-opacity="0.55"/>
<circle cx="100.5" cy="749.7" r="7.4" fill="#b4b400" fill-opacity="0.55"/>
<circle cx="88.6" cy="760.4" r="4.6" fill="#777777" fill-opacity="0.6"/>
<circle cx="105.3" cy="760.8" r="7.9" fill="#c8c8f0" fill-opacity="0.5"/>
<circle cx="102.8" cy="774.8" r="7.8" fill="#1f6e2a" fill-opacity="0.6"/>
<circle cx="83.3" cy="779.0" r="3.3" fill="#cc2222" fill-opacity="0.55"/>
<circle cx="86.1" cy="736.9" r="3.9" fill="#ff2020" fill-opacity="0.55"/>
<circle cx="101.0" cy="788.2" r="7.3" fill="#8b6a3a" fill-opacity="0.55"/>
<circle cx="92.8" cy="797.2" r="5.8" fill="#ff8000" fill-opacity="0.55"/>
<line x1="79.4" y1="700.0" x2="79.4" y2="914.7" stroke="#000" stroke-width="1.8"/>
<line x1="78.5" y1="914.2" x2="400.6" y2="914.2" stroke="#000" stroke-width="1.8"/>
<line x1="71.2" y1="700.80" x2="79.4" y2="700.80" stroke="#000" stroke-width="1.5"/>
<line x1="73.6" y1="702.10" x2="79.4" y2="702.10" stroke="#000" stroke-width="1"/>
<line x1="73.6" y1="702.95" x2="79.4" y2="702.95" stroke="#000" stroke-width="1"/>
<line x1="73.6" y1="703.80" x2="79.4" y2="703.80" stroke="#000" stroke-width="1"/>
<line x1="73.6" y1="704.70" x2="79.4" y2="704.70" stroke="#000" stroke-width="1"/>
<line x1="73.6" y1="705.50" x2="79.4" y2="705.50" stroke="#000" stroke-width="1"/>
<line x1="73.6" y1="706.80" x2="79.4" y2="706.80" stroke="#000" stroke-width="1"/>
<line x1="73.6" y1="708.55" x2="79.4" y2="708.55" stroke="#000" stroke-width="1"/>
<line x1="73.6" y1="710.70" x2="79.4" y2="710.70" stroke="#000" stroke-width="1"/>
<line x1="73.6" y1="713.30" x2="79.4" y2="713.30" stroke="#000" stroke-width="1"/>
<line x1="73.6" y1="716.30" x2="79.4" y2="716.30" stroke="#000" stroke-width="1"/>
<line x1="73.6" y1="719.70" x2="79.4" y2="719.70" stroke="#000" stroke-width="1"/>
<line x1="73.6" y1="724.50" x2="79.4" y2="724.50" stroke="#000" stroke-width="1"/>
<line x1="73.6" y1="731.80" x2="79.4" y2="731.80" stroke="#000" stroke-width="1"/>
<text x="65.3" y="707.70" font-size="15.5" font-weight="700" text-anchor="end"><tspan>10</tspan><tspan font-size="10.5" dy="-6.9">-4</tspan></text>
<line x1="71.2" y1="743.42" x2="79.4" y2="743.42" stroke="#000" stroke-width="1.5"/>
<line x1="73.6" y1="744.72" x2="79.4" y2="744.72" stroke="#000" stroke-width="1"/>
<line x1="73.6" y1="745.57" x2="79.4" y2="745.57" stroke="#000" stroke-width="1"/>
<line x1="73.6" y1="746.42" x2="79.4" y2="746.42" stroke="#000" stroke-width="1"/>
<line x1="73.6" y1="747.32" x2="79.4" y2="747.32" stroke="#000" stroke-width="1"/>
<line x1="73.6" y1="748.12" x2="79.4" y2="748.12" stroke="#000" stroke-width="1"/>
<line x1="73.6" y1="749.42" x2="79.4" y2="749.42" stroke="#000" stroke-width="1"/>
<line x1="73.6" y1="751.17" x2="79.4" y2="751.17" stroke="#000" stroke-width="1"/>
<line x1="73.6" y1="753.32" x2="79.4" y2="753.32" stroke="#000" stroke-width="1"/>
<line x1="73.6" y1="755.92" x2="79.4" y2="755.92" stroke="#000" stroke-width="1"/>
<line x1="73.6" y1="758.92" x2="79.4" y2="758.92" stroke="#000" stroke-width="1"/>
<line x1="73.6" y1="762.32" x2="79.4" y2="762.32" stroke="#000" stroke-width="1"/>
<line x1="73.6" y1="767.12" x2="79.4" y2="767.12" stroke="#000" stroke-width="1"/>
<line x1="73.6" y1="774.42" x2="79.4" y2="774.42" stroke="#000" stroke-width="1"/>
<text x="65.3" y="750.32" font-size="15.5" font-weight="700" text-anchor="end"><tspan>10</tspan><tspan font-size="10.5" dy="-6.9">-6</tspan></text>
<line x1="71.2" y1="786.04" x2="79.4" y2="786.04" stroke="#000" stroke-width="1.5"/>
<line x1="73.6" y1="787.34" x2="79.4" y2="787.34" stroke="#000" stroke-width="1"/>
<line x1="73.6" y1="788.19" x2="79.4" y2="788.19" stroke="#000" stroke-width="1"/>
<line x1="73.6" y1="789.04" x2="79.4" y2="789.04" stroke="#000" stroke-width="1"/>
<line x1="73.6" y1="789.94" x2="79.4" y2="789.94" stroke="#000" stroke-width="1"/>
<line x1="73.6" y1="790.74" x2="79.4" y2="790.74" stroke="#000" stroke-width="1"/>
<line x1="73.6" y1="792.04" x2="79.4" y2="792.04" stroke="#000" stroke-width="1"/>
<line x1="73.6" y1="793.79" x2="79.4" y2="793.79" stroke="#000" stroke-width="1"/>
<line x1="73.6" y1="795.94" x2="79.4" y2="795.94" stroke="#000" stroke-width="1"/>
<line x1="73.6" y1="798.54" x2="79.4" y2="798.54" stroke="#000" stroke-width="1"/>
<line x1="73.6" y1="801.54" x2="79.4" y2="801.54" stroke="#000" stroke-width="1"/>
<line x1="73.6" y1="804.94" x2="79.4" y2="804.94" stroke="#000" stroke-width="1"/>
<line x1="73.6" y1="809.74" x2="79.4" y2="809.74" stroke="#000" stroke-width="1"/>
<line x1="73.6" y1="817.04" x2="79.4" y2="817.04" stroke="#000" stroke-width="1"/>
<text x="65.3" y="792.94" font-size="15.5" font-weight="700" text-anchor="end"><tspan>10</tspan><tspan font-size="10.5" dy="-6.9">-8</tspan></text>
<line x1="71.2" y1="828.66" x2="79.4" y2="828.66" stroke="#000" stroke-width="1.5"/>
<line x1="73.6" y1="829.96" x2="79.4" y2="829.96" stroke="#000" stroke-width="1"/>
<line x1="73.6" y1="830.81" x2="79.4" y2="830.81" stroke="#000" stroke-width="1"/>
<line x1="73.6" y1="831.66" x2="79.4" y2="831.66" stroke="#000" stroke-width="1"/>
<line x1="73.6" y1="832.56" x2="79.4" y2="832.56" stroke="#000" stroke-width="1"/>
<line x1="73.6" y1="833.36" x2="79.4" y2="833.36" stroke="#000" stroke-width="1"/>
<line x1="73.6" y1="834.66" x2="79.4" y2="834.66" stroke="#000" stroke-width="1"/>
<line x1="73.6" y1="836.41" x2="79.4" y2="836.41" stroke="#000" stroke-width="1"/>
<line x1="73.6" y1="838.56" x2="79.4" y2="838.56" stroke="#000" stroke-width="1"/>
<line x1="73.6" y1="841.16" x2="79.4" y2="841.16" stroke="#000" stroke-width="1"/>
<line x1="73.6" y1="844.16" x2="79.4" y2="844.16" stroke="#000" stroke-width="1"/>
<line x1="73.6" y1="847.56" x2="79.4" y2="847.56" stroke="#000" stroke-width="1"/>
<line x1="73.6" y1="852.36" x2="79.4" y2="852.36" stroke="#000" stroke-width="1"/>
<line x1="73.6" y1="859.66" x2="79.4" y2="859.66" stroke="#000" stroke-width="1"/>
<text x="65.3" y="835.56" font-size="15.5" font-weight="700" text-anchor="end"><tspan>10</tspan><tspan font-size="10.5" dy="-6.9">-10</tspan></text>
<line x1="71.2" y1="871.28" x2="79.4" y2="871.28" stroke="#000" stroke-width="1.5"/>
<line x1="73.6" y1="872.58" x2="79.4" y2="872.58" stroke="#000" stroke-width="1"/>
<line x1="73.6" y1="873.43" x2="79.4" y2="873.43" stroke="#000" stroke-width="1"/>
<line x1="73.6" y1="874.28" x2="79.4" y2="874.28" stroke="#000" stroke-width="1"/>
<line x1="73.6" y1="875.18" x2="79.4" y2="875.18" stroke="#000" stroke-width="1"/>
<line x1="73.6" y1="875.98" x2="79.4" y2="875.98" stroke="#000" stroke-width="1"/>
<line x1="73.6" y1="877.28" x2="79.4" y2="877.28" stroke="#000" stroke-width="1"/>
<line x1="73.6" y1="879.03" x2="79.4" y2="879.03" stroke="#000" stroke-width="1"/>
<line x1="73.6" y1="881.18" x2="79.4" y2="881.18" stroke="#000" stroke-width="1"/>
<line x1="73.6" y1="883.78" x2="79.4" y2="883.78" stroke="#000" stroke-width="1"/>
<line x1="73.6" y1="886.78" x2="79.4" y2="886.78" stroke="#000" stroke-width="1"/>
<line x1="73.6" y1="890.18" x2="79.4" y2="890.18" stroke="#000" stroke-width="1"/>
<line x1="73.6" y1="894.98" x2="79.4" y2="894.98" stroke="#000" stroke-width="1"/>
<line x1="73.6" y1="902.28" x2="79.4" y2="902.28" stroke="#000" stroke-width="1"/>
<text x="65.3" y="878.18" font-size="15.5" font-weight="700" text-anchor="end"><tspan>10</tspan><tspan font-size="10.5" dy="-6.9">-12</tspan></text>
<line x1="71.2" y1="913.90" x2="79.4" y2="913.90" stroke="#000" stroke-width="1.5"/>
<text x="65.3" y="920.80" font-size="15.5" font-weight="700" text-anchor="end"><tspan>10</tspan><tspan font-size="10.5" dy="-6.9">-14</tspan></text>
<line x1="79.40" y1="914.2" x2="79.40" y2="922.0" stroke="#000" stroke-width="1.5"/>
<text x="79.40" y="943.00" font-size="15.5" font-weight="700" text-anchor="middle" fill="#000" >0</text>
<line x1="87.40" y1="914.2" x2="87.40" y2="919.8000000000001" stroke="#000" stroke-width="1.5"/>
<line x1="95.40" y1="914.2" x2="95.40" y2="919.8000000000001" stroke="#000" stroke-width="1.5"/>
<line x1="103.40" y1="914.2" x2="103.40" y2="919.8000000000001" stroke="#000" stroke-width="1.5"/>
<line x1="111.40" y1="914.2" x2="111.40" y2="919.8000000000001" stroke="#000" stroke-width="1.5"/>
<line x1="119.40" y1="914.2" x2="119.40" y2="919.8000000000001" stroke="#000" stroke-width="1.5"/>
<line x1="127.40" y1="914.2" x2="127.40" y2="919.8000000000001" stroke="#000" stroke-width="1.5"/>
<line x1="135.40" y1="914.2" x2="135.40" y2="919.8000000000001" stroke="#000" stroke-width="1.5"/>
<line x1="143.40" y1="914.2" x2="143.40" y2="919.8000000000001" stroke="#000" stroke-width="1.5"/>
<line x1="151.40" y1="914.2" x2="151.40" y2="919.8000000000001" stroke="#000" stroke-width="1.5"/>
<line x1="159.40" y1="914.2" x2="159.40" y2="922.0" stroke="#000" stroke-width="1.5"/>
<text x="159.40" y="943.00" font-size="15.5" font-weight="700" text-anchor="middle" fill="#000" >50</text>
<line x1="167.40" y1="914.2" x2="167.40" y2="919.8000000000001" stroke="#000" stroke-width="1.5"/>
<line x1="175.40" y1="914.2" x2="175.40" y2="919.8000000000001" stroke="#000" stroke-width="1.5"/>
<line x1="183.40" y1="914.2" x2="183.40" y2="919.8000000000001" stroke="#000" stroke-width="1.5"/>
<line x1="191.40" y1="914.2" x2="191.40" y2="919.8000000000001" stroke="#000" stroke-width="1.5"/>
<line x1="199.40" y1="914.2" x2="199.40" y2="919.8000000000001" stroke="#000" stroke-width="1.5"/>
<line x1="207.40" y1="914.2" x2="207.40" y2="919.8000000000001" stroke="#000" stroke-width="1.5"/>
<line x1="215.40" y1="914.2" x2="215.40" y2="919.8000000000001" stroke="#000" stroke-width="1.5"/>
<line x1="223.40" y1="914.2" x2="223.40" y2="919.8000000000001" stroke="#000" stroke-width="1.5"/>
<line x1="231.40" y1="914.2" x2="231.40" y2="919.8000000000001" stroke="#000" stroke-width="1.5"/>
<line x1="239.40" y1="914.2" x2="239.40" y2="922.0" stroke="#000" stroke-width="1.5"/>
<text x="239.40" y="943.00" font-size="15.5" font-weight="700" text-anchor="middle" fill="#000" >100</text>
<line x1="247.40" y1="914.2" x2="247.40" y2="919.8000000000001" stroke="#000" stroke-width="1.5"/>
<line x1="255.40" y1="914.2" x2="255.40" y2="919.8000000000001" stroke="#000" stroke-width="1.5"/>
<line x1="263.40" y1="914.2" x2="263.40" y2="919.8000000000001" stroke="#000" stroke-width="1.5"/>
<line x1="271.40" y1="914.2" x2="271.40" y2="919.8000000000001" stroke="#000" stroke-width="1.5"/>
<line x1="279.40" y1="914.2" x2="279.40" y2="919.8000000000001" stroke="#000" stroke-width="1.5"/>
<line x1="287.40" y1="914.2" x2="287.40" y2="919.8000000000001" stroke="#000" stroke-width="1.5"/>
<line x1="295.40" y1="914.2" x2="295.40" y2="919.8000000000001" stroke="#000" stroke-width="1.5"/>
<line x1="303.40" y1="914.2" x2="303.40" y2="919.8000000000001" stroke="#000" stroke-width="1.5"/>
<line x1="311.40" y1="914.2" x2="311.40" y2="919.8000000000001" stroke="#000" stroke-width="1.5"/>
<line x1="319.40" y1="914.2" x2="319.40" y2="922.0" stroke="#000" stroke-width="1.5"/>
<text x="319.40" y="943.00" font-size="15.5" font-weight="700" text-anchor="middle" fill="#000" >150</text>
<line x1="327.40" y1="914.2" x2="327.40" y2="919.8000000000001" stroke="#000" stroke-width="1.5"/>
<line x1="335.40" y1="914.2" x2="335.40" y2="919.8000000000001" stroke="#000" stroke-width="1.5"/>
<line x1="343.40" y1="914.2" x2="343.40" y2="919.8000000000001" stroke="#000" stroke-width="1.5"/>
<line x1="351.40" y1="914.2" x2="351.40" y2="919.8000000000001" stroke="#000" stroke-width="1.5"/>
<line x1="359.40" y1="914.2" x2="359.40" y2="919.8000000000001" stroke="#000" stroke-width="1.5"/>
<line x1="367.40" y1="914.2" x2="367.40" y2="919.8000000000001" stroke="#000" stroke-width="1.5"/>
<line x1="375.40" y1="914.2" x2="375.40" y2="919.8000000000001" stroke="#000" stroke-width="1.5"/>
<line x1="383.40" y1="914.2" x2="383.40" y2="919.8000000000001" stroke="#000" stroke-width="1.5"/>
<line x1="391.40" y1="914.2" x2="391.40" y2="919.8000000000001" stroke="#000" stroke-width="1.5"/>
<line x1="399.40" y1="914.2" x2="399.40" y2="922.0" stroke="#000" stroke-width="1.5"/>
<text x="399.40" y="943.00" font-size="15.5" font-weight="700" text-anchor="middle" fill="#000" >200</text>
<text x="239.00" y="968.90" font-size="17.3" font-weight="700" text-anchor="middle" fill="#000" >Fold Enrichment</text>
<text x="0" y="0" font-size="16.8" font-weight="700" text-anchor="middle" transform="translate(23 807.7) rotate(-90)">-log(p-value)</text>
<text x="14.60" y="709.60" font-size="20" font-weight="700" text-anchor="start" fill="#000" >D</text>
<text x="441.50" y="770.10" font-size="16.8" font-weight="400" text-anchor="start" fill="#000" >Fold Enrichment</text>
<circle cx="470.3" cy="793.9" r="3.4" fill="#000"/>
<circle cx="470.5" cy="819.6" r="9.2" fill="#000"/>
<circle cx="470.3" cy="860.6" r="25.2" fill="#000"/>
<text x="501.80" y="799.80" font-size="17.3" font-weight="400" text-anchor="start" fill="#000" >2.59</text>
<text x="501.80" y="825.70" font-size="17.3" font-weight="400" text-anchor="start" fill="#000" >19.56</text>
<text x="501.80" y="866.50" font-size="17.3" font-weight="400" text-anchor="start" fill="#000" >147.78</text>
<circle cx="16.2" cy="993.00" r="7.3" fill="#7171f1"/>
<text x="29.60" y="999.10" font-size="16.8" font-weight="400" text-anchor="start" fill="#000" >Transport of vitamins, nucleosides, and related molecules</text>
<circle cx="16.2" cy="1018.55" r="7.3" fill="#f27575"/>
<text x="29.60" y="1024.65" font-size="16.8" font-weight="400" text-anchor="start" fill="#000" >Transport of nucleotide sugars</text>
<circle cx="16.2" cy="1044.10" r="7.3" fill="#72d672"/>
<text x="29.60" y="1050.20" font-size="16.8" font-weight="400" text-anchor="start" fill="#000" >SLC-mediated transmembrane transport</text>
<circle cx="16.2" cy="1069.65" r="7.3" fill="#cf77ef"/>
<text x="29.60" y="1075.75" font-size="16.8" font-weight="400" text-anchor="start" fill="#000" >Keratan sulfate biosynthesis</text>
<circle cx="16.2" cy="1095.20" r="7.3" fill="#ffb577"/>
<text x="29.60" y="1101.30" font-size="16.8" font-weight="400" text-anchor="start" fill="#000" >Transport of small molecules</text>
<circle cx="16.2" cy="1120.75" r="7.3" fill="#727272"/>
<text x="29.60" y="1126.85" font-size="16.8" font-weight="400" text-anchor="start" fill="#000" >Pre-NOTCH Expression and Processing</text>
<circle cx="16.2" cy="1146.30" r="7.3" fill="#c6a98a"/>
<text x="29.60" y="1152.40" font-size="16.8" font-weight="400" text-anchor="start" fill="#000" >Disorders of transmembrane transporters</text>
<circle cx="16.2" cy="1171.85" r="7.3" fill="#7474c4"/>
<text x="29.60" y="1177.95" font-size="16.8" font-weight="400" text-anchor="start" fill="#000" >Pre-NOTCH Processing in Golgi</text>
<circle cx="16.2" cy="1197.40" r="7.3" fill="#aa7fb1"/>
<text x="29.60" y="1203.50" font-size="16.8" font-weight="400" text-anchor="start" fill="#000" >Signaling by NOTCH</text>
<circle cx="16.2" cy="1222.95" r="7.3" fill="#d97878"/>
<text x="29.60" y="1229.05" font-size="16.8" font-weight="400" text-anchor="start" fill="#000" >Metabolism</text>
<circle cx="16.2" cy="1248.50" r="7.3" fill="#6f9f78"/>
<text x="29.60" y="1254.60" font-size="16.8" font-weight="400" text-anchor="start" fill="#000" >SLC transporter disorders</text>
<circle cx="16.2" cy="1274.05" r="7.3" fill="#f9d4b8"/>
<text x="29.60" y="1280.15" font-size="16.8" font-weight="400" text-anchor="start" fill="#000" >O-linked glycosylation</text>
<circle cx="16.2" cy="1299.60" r="7.3" fill="#77f177"/>
<text x="29.60" y="1305.70" font-size="16.8" font-weight="400" text-anchor="start" fill="#000" >O-linked glycosylation of mucins</text>
<circle cx="474" cy="993.00" r="7.3" fill="#bcd5f4"/>
<text x="488.00" y="999.10" font-size="16.8" font-weight="400" text-anchor="start" fill="#000" >Keratan sulfate/keratin metabolism</text>
<circle cx="474" cy="1018.55" r="7.3" fill="#dcdcf9"/>
<text x="488.00" y="1024.65" font-size="16.8" font-weight="400" text-anchor="start" fill="#000" >Synthesis of substrates in N-glycan biosythesis</text>
<circle cx="474" cy="1044.10" r="7.3" fill="#a9a9a9"/>
<text x="488.00" y="1050.20" font-size="16.8" font-weight="400" text-anchor="start" fill="#000" >Metabolism of proteins</text>
<circle cx="474" cy="1069.65" r="7.3" fill="#ffff72"/>
<text x="488.00" y="1075.75" font-size="16.8" font-weight="400" text-anchor="start" fill="#000" >Defective SLC35A2 causes congenital disorder of glycosylation 2M</text>
<circle cx="474" cy="1095.20" r="7.3" fill="#d9a271"/>
<text x="488.00" y="1101.30" font-size="16.8" font-weight="400" text-anchor="start" fill="#000" >Pyrimidine salvage</text>
<circle cx="474" cy="1120.75" r="7.3" fill="#e5e5e5"/>
<text x="488.00" y="1126.85" font-size="16.8" font-weight="400" text-anchor="start" fill="#000" >Nucleotide salvage</text>
<circle cx="474" cy="1146.30" r="7.3" fill="#d9d975"/>
<text x="488.00" y="1152.40" font-size="16.8" font-weight="400" text-anchor="start" fill="#000" >Biosynthesis of the N-glycan precursor and transfer to a nascent protein</text>
<circle cx="474" cy="1171.85" r="7.3" fill="#7777fb"/>
<text x="488.00" y="1177.95" font-size="16.8" font-weight="400" text-anchor="start" fill="#000" >Glycosaminoglycan metabolism</text>
<circle cx="474" cy="1197.40" r="7.3" fill="#fb7777"/>
<text x="488.00" y="1203.50" font-size="16.8" font-weight="400" text-anchor="start" fill="#000" >Biochemical pathways: part I</text>
<circle cx="474" cy="1222.95" r="7.3" fill="#77d777"/>
<text x="488.00" y="1229.05" font-size="16.8" font-weight="400" text-anchor="start" fill="#000" >Nucleobase catabolism</text>
<circle cx="474" cy="1248.50" r="7.3" fill="#d277f0"/>
<text x="488.00" y="1254.60" font-size="16.8" font-weight="400" text-anchor="start" fill="#000" >Pyrimidine catabolism</text>
<circle cx="474" cy="1274.05" r="7.3" fill="#ffb477"/>
<text x="488.00" y="1280.15" font-size="16.8" font-weight="400" text-anchor="start" fill="#000" >Asparagine N-linked glycosylation</text>
</svg>
</body></html>
